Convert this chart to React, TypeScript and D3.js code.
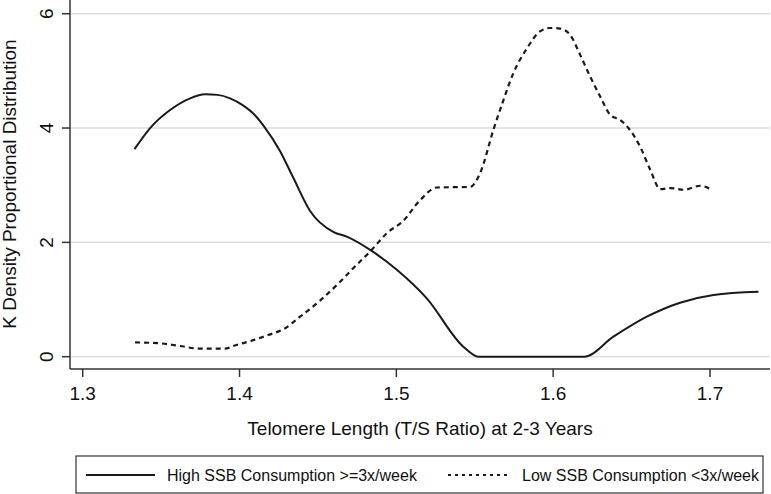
import React from "react";
import * as d3 from "d3";

// tick labels
const xTicks = [1.3, 1.4, 1.5, 1.6, 1.7];
const yTicks = [0, 2, 4, 6];

// High SSB consumption (>=3x/week) density
const highX = [1.333, 1.343, 1.3557, 1.3685, 1.378, 1.386, 1.394, 1.402, 1.41, 1.4156, 1.4258, 1.4343, 1.445, 1.46, 1.4684, 1.4843, 1.5003, 1.5194, 1.5427, 1.5523, 1.6197, 1.6384, 1.6597, 1.6809, 1.7022, 1.7309];
const highY = [3.63, 4.0, 4.315, 4.52, 4.59, 4.58, 4.52, 4.4, 4.22, 4.03, 3.6, 3.13, 2.55, 2.18, 2.1, 1.85, 1.52, 1.02, 0.175, 0, 0, 0.35, 0.7, 0.945, 1.08, 1.137];

// Low SSB consumption (<3x/week) density
const lowX = [1.3334, 1.3493, 1.362, 1.375, 1.3908, 1.396, 1.4088, 1.4195, 1.428, 1.4386, 1.4513, 1.4641, 1.4726, 1.4843, 1.4939, 1.5045, 1.5152, 1.5258, 1.547, 1.5534, 1.5619, 1.5683, 1.5746, 1.5832, 1.5916, 1.598, 1.6044, 1.6108, 1.6172, 1.6236, 1.63, 1.6364, 1.6428, 1.648, 1.6555, 1.6619, 1.6683, 1.6747, 1.6832, 1.6939, 1.7003];
const lowY = [0.25, 0.234, 0.187, 0.14, 0.14, 0.187, 0.29, 0.39, 0.48, 0.7, 0.98, 1.31, 1.55, 1.87, 2.16, 2.38, 2.74, 2.96, 2.97, 3.21, 3.97, 4.49, 4.96, 5.39, 5.69, 5.75, 5.74, 5.63, 5.28, 4.9, 4.55, 4.23, 4.14, 4.0, 3.67, 3.27, 2.93, 2.95, 2.92, 2.99, 2.93];

const seriesNames = ["High SSB Consumption >=3x/week", "Low SSB Consumption <3x/week"];

const W = 771;
const H = 494;
const plot = { left: 70, right: 770, top: 0, bottom: 369 };
const font = "'Liberation Sans', Arial, Helvetica, sans-serif";

export default function App() {
  const x = d3.scaleLinear().domain([1.3, 1.7]).range([82.7, 710]);
  const y = d3.scaleLinear().domain([0, 6]).range([356.7, 13.7]);

  const line = d3
    .line<[number, number]>()
    .x((d) => x(d[0]))
    .y((d) => y(d[1]))
    .curve(d3.curveMonotoneX);

  const highPts = highX.map((v, i) => [v, highY[i]] as [number, number]);
  const lowPts = lowX.map((v, i) => [v, lowY[i]] as [number, number]);

  return (
    <svg
      width={W}
      height={H}
      style={{ position: "absolute", left: 0, top: 0, background: "#fff" }}
      fontFamily={font}
    >
      {/* grid lines */}
      {yTicks.map((t) => (
        <line key={"g" + t} x1={plot.left} x2={plot.right} y1={y(t)} y2={y(t)} stroke="#dddddd" strokeWidth={1.5} />
      ))}

      {/* y axis */}
      <line x1={plot.left} x2={plot.left} y1={plot.top} y2={plot.bottom} stroke="#333" strokeWidth={1.5} />
      {yTicks.map((t) => (
        <g key={"y" + t}>
          <line x1={plot.left - 8} x2={plot.left} y1={y(t)} y2={y(t)} stroke="#333" strokeWidth={1.5} />
          <text
            transform={`translate(53,${y(t)}) rotate(-90)`}
            textAnchor="middle"
            fontSize={19}
            fill="#111"
          >
            {t}
          </text>
        </g>
      ))}
      <text transform="translate(16,184) rotate(-90)" textAnchor="middle" fontSize={19} fill="#111">
        K Density Proportional Distribution
      </text>

      {/* x axis */}
      <line x1={plot.left} x2={plot.right} y1={plot.bottom} y2={plot.bottom} stroke="#333" strokeWidth={1.5} />
      {xTicks.map((t) => (
        <g key={"x" + t}>
          <line x1={x(t)} x2={x(t)} y1={plot.bottom} y2={plot.bottom + 8} stroke="#333" strokeWidth={1.5} />
          <text x={x(t)} y={400} textAnchor="middle" fontSize={19} fill="#111">
            {t.toFixed(1)}
          </text>
        </g>
      ))}
      <text x={420} y={435} textAnchor="middle" fontSize={19} fill="#111">
        Telomere Length (T/S Ratio) at 2-3 Years
      </text>

      {/* curves */}
      <path d={line(highPts) ?? ""} fill="none" stroke="#1a1a1a" strokeWidth={2} />
      <path d={line(lowPts) ?? ""} fill="none" stroke="#1a1a1a" strokeWidth={2.2} strokeDasharray="5,4" />

      {/* legend */}
      <rect x={76} y={456} width={687} height={37} fill="#fff" stroke="#333" strokeWidth={1.2} />
      <line x1={86} x2={155} y1={475} y2={475} stroke="#1a1a1a" strokeWidth={2} />
      <text x={167} y={481} fontSize={16} fill="#111">
        {seriesNames[0]}
      </text>
      <line x1={448} x2={510} y1={475} y2={475} stroke="#1a1a1a" strokeWidth={2} strokeDasharray="3,4" />
      <text x={522} y={481} fontSize={16} fill="#111">
        {seriesNames[1]}
      </text>
    </svg>
  );
}
